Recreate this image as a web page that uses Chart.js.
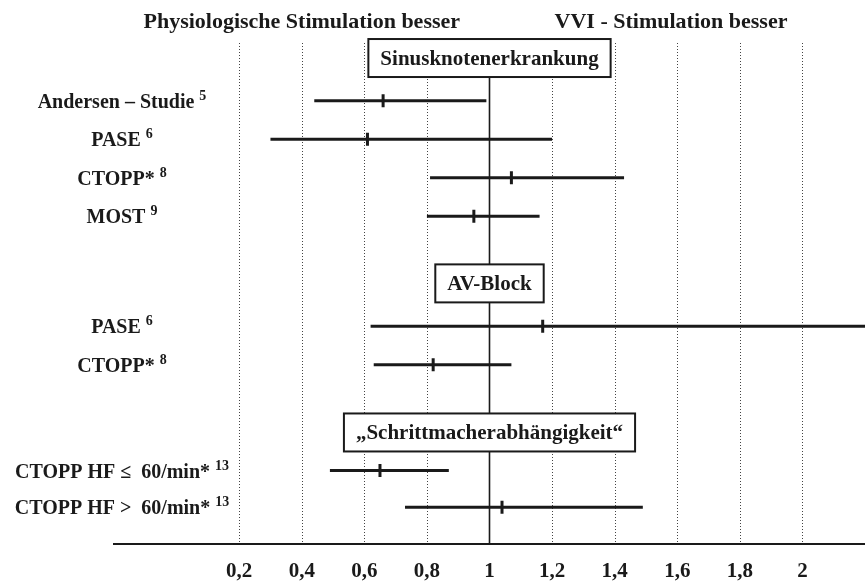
<!DOCTYPE html>
<html>
<head>
<meta charset="utf-8">
<script src="https://cdn.jsdelivr.net/npm/chart.js@4/dist/chart.umd.min.js"></script>
<style>
  body { margin: 0; background: #fff; }
</style>
</head>
<body>
<canvas id="chart" width="865" height="583"></canvas>
<script>
const studies = ["Andersen – Studie", "PASE", "CTOPP*", "MOST", "PASE", "CTOPP*", "CTOPP HF ≤  60/min*", "CTOPP HF >  60/min*"];
const refs = ["5", "6", "8", "9", "6", "8", "13", "13"];
const rowPos = [1.5, 2.5, 3.5, 4.5, 7.35, 8.35, 11.1, 12.05];
const lower = [0.44, 0.30, 0.81, 0.80, 0.62, 0.63, 0.49, 0.73];
const estimate = [0.66, 0.61, 1.07, 0.95, 1.17, 0.82, 0.65, 1.04];
const upper = [0.99, 1.20, 1.43, 1.16, 2.30, 1.07, 0.87, 1.49];

const groups = ["Sinusknotenerkrankung", "AV-Block", "„Schrittmacherabhängigkeit“"];
const groupPos = [0.39, 6.24, 10.11];

const xTicks = [0.2, 0.4, 0.6, 0.8, 1, 1.2, 1.4, 1.6, 1.8, 2];
const sideTitles = ["Physiologische Stimulation besser", "VVI - Stimulation besser"];
const sideTitleAt = [0.4, 1.58];

const serif = "'Liberation Serif', 'Times New Roman', serif";
const ink = "#1a1a1a";

const overlay = {
  id: "overlay",
  beforeDatasetsDraw(chart) {
    const { ctx, chartArea, scales: { x } } = chart;
    ctx.save();
    xTicks.forEach((v) => {
      const px = Math.round(x.getPixelForValue(v)) + 0.5;
      ctx.beginPath();
      if (v === 1) {
        ctx.setLineDash([]);
        ctx.strokeStyle = ink;
        ctx.lineWidth = 1.6;
      } else {
        ctx.setLineDash([1, 2]);
        ctx.strokeStyle = "#444";
        ctx.lineWidth = 1;
      }
      ctx.moveTo(px, chartArea.top);
      ctx.lineTo(px, chartArea.bottom);
      ctx.stroke();
    });
    ctx.restore();
  },
  afterDatasetsDraw(chart) {
    const { ctx, scales: { x, y } } = chart;
    ctx.save();
    ctx.fillStyle = ink;

    // titles above the plot
    ctx.font = "bold 22px " + serif;
    ctx.textAlign = "center";
    ctx.textBaseline = "alphabetic";
    sideTitles.forEach((t, i) => {
      ctx.fillText(t, x.getPixelForValue(sideTitleAt[i]), 28);
    });

    // group header boxes centred on 1
    const cx = x.getPixelForValue(1);
    ctx.font = "bold 21px " + serif;
    groups.forEach((g, i) => {
      const cy = y.getPixelForValue(groupPos[i]);
      const w = ctx.measureText(g).width + 24;
      const h = 38;
      ctx.fillStyle = "#fff";
      ctx.fillRect(cx - w / 2, cy - h / 2, w, h);
      ctx.lineWidth = 2;
      ctx.strokeStyle = ink;
      ctx.strokeRect(cx - w / 2, cy - h / 2, w, h);
      ctx.fillStyle = ink;
      ctx.textAlign = "center";
      ctx.fillText(g, cx, cy + 7);
    });

    // study labels with reference superscripts
    ctx.textAlign = "left";
    studies.forEach((s, i) => {
      const cy = y.getPixelForValue(rowPos[i]);
      ctx.font = "bold 20px " + serif;
      const wMain = ctx.measureText(s).width;
      ctx.font = "bold 14px " + serif;
      const wSup = ctx.measureText(refs[i]).width;
      const left = 122 - (wMain + 5 + wSup) / 2;
      ctx.font = "bold 20px " + serif;
      ctx.fillText(s, left, cy + 7);
      ctx.font = "bold 14px " + serif;
      ctx.fillText(refs[i], left + wMain + 5, cy - 1);
    });
    ctx.restore();
  },
};

const bars = studies.map((s, i) => ({
  label: s,
  data: [{ x: lower[i], y: rowPos[i] }, { x: upper[i], y: rowPos[i] }],
  showLine: true,
  borderColor: ink,
  borderWidth: 3,
  pointRadius: 0,
}));

const marks = {
  label: "Schätzer",
  data: studies.map((s, i) => ({ x: estimate[i], y: rowPos[i] })),
  pointStyle: "line",
  rotation: 90,
  pointRadius: 6.5,
  pointBorderWidth: 3,
  borderColor: ink,
  backgroundColor: ink,
};

new Chart(document.getElementById("chart"), {
  type: "scatter",
  data: { datasets: [...bars, marks] },
  options: {
    responsive: false,
    animation: false,
    devicePixelRatio: 1,
    layout: { autoPadding: false, padding: { top: 43, left: 114, right: 0, bottom: -16 } },
    plugins: { legend: { display: false }, tooltip: { enabled: false } },
    scales: {
      x: {
        type: "linear",
        min: -0.2,
        max: 2.2,
        afterBuildTicks: (axis) => {
          axis.ticks = xTicks.map((v) => ({ value: v }));
        },
        afterFit: (axis) => {
          axis.paddingLeft = 0;
          axis.paddingRight = 0;
        },
        grid: { display: false, drawTicks: false },
        border: { display: true, color: ink, width: 2 },
        ticks: {
          autoSkip: false,
          maxRotation: 0,
          padding: 15,
          color: ink,
          font: { family: serif, size: 21, weight: "bold" },
          callback: (v) => String(Math.round(v * 10) / 10).replace(".", ","),
        },
      },
      y: {
        type: "linear",
        display: false,
        min: 0,
        max: 13,
        reverse: true,
      },
    },
  },
  plugins: [overlay],
});
</script>
</body>
</html>
